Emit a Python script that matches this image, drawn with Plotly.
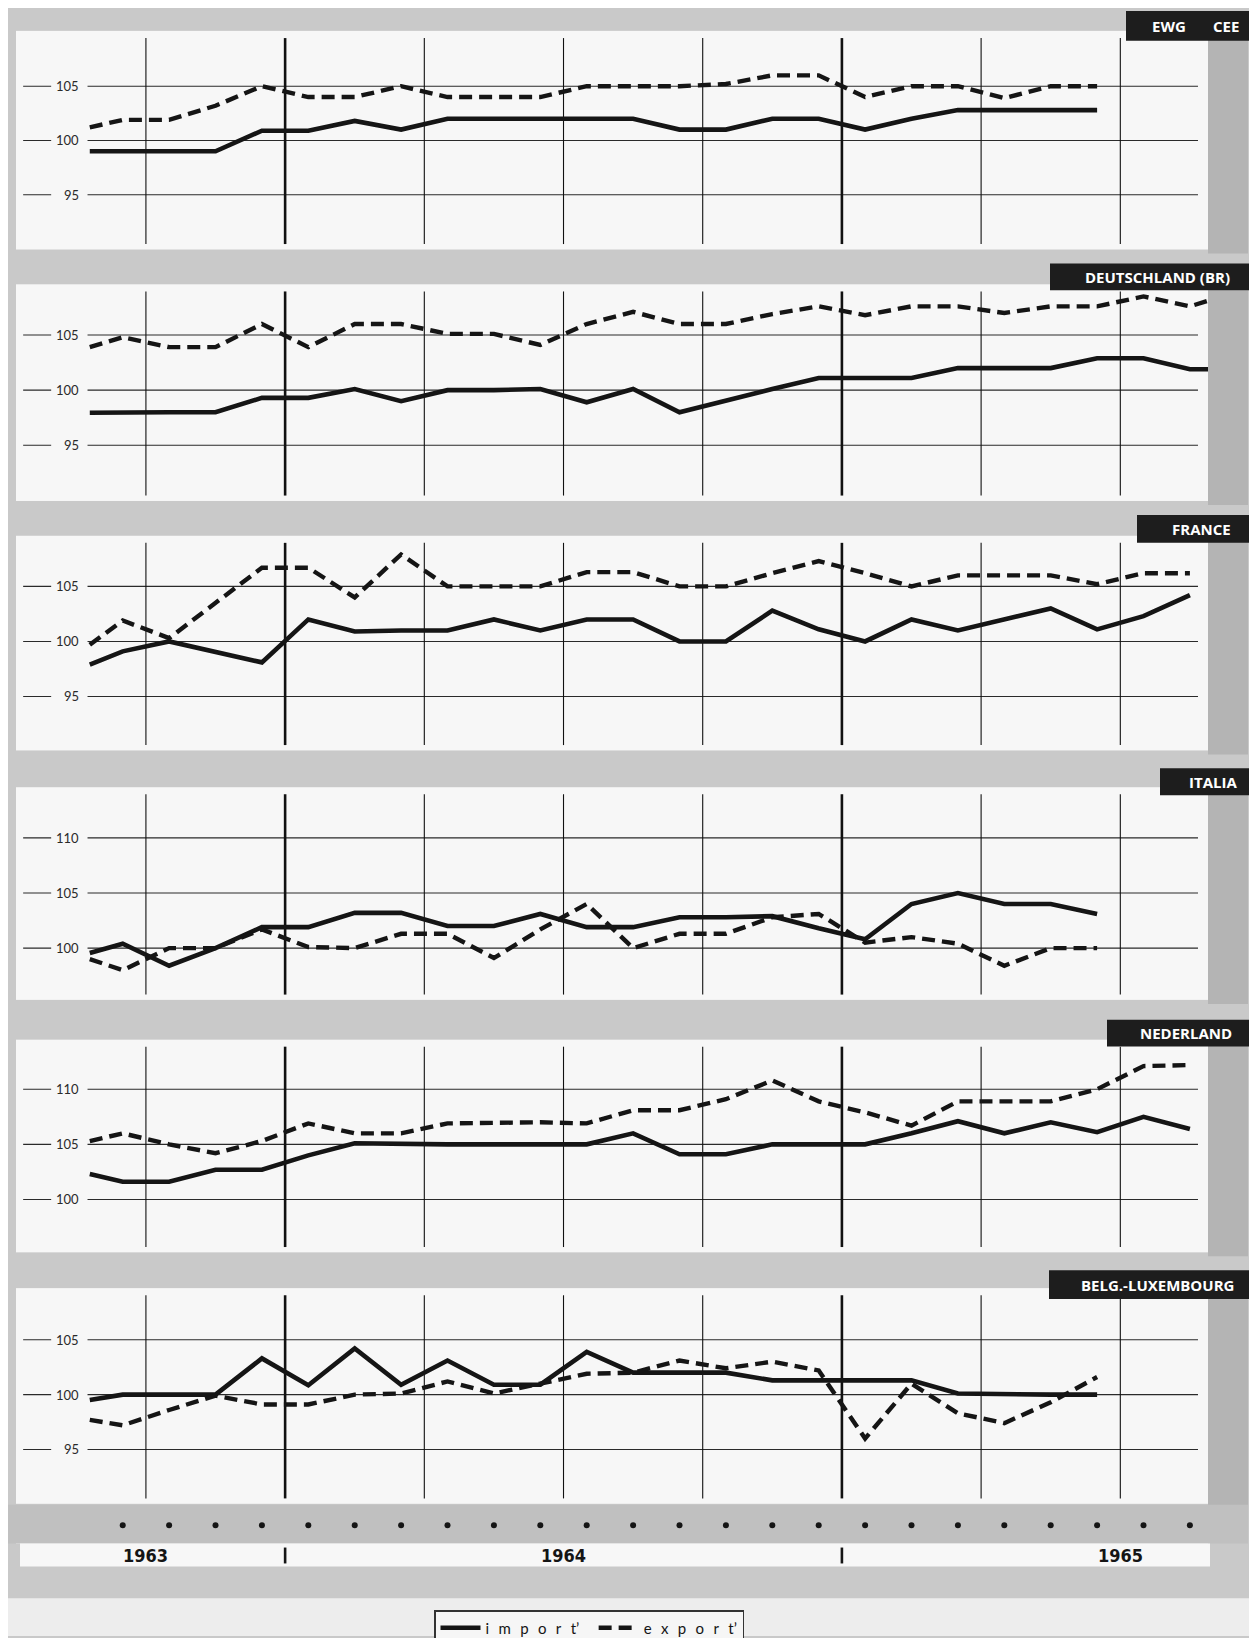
import plotly.graph_objects as go

W, H = 1257, 1638

# ---------------- data ----------------
MONTHS = ["1963-09", "1963-10", "1963-11", "1963-12",
          "1964-01", "1964-02", "1964-03", "1964-04", "1964-05", "1964-06",
          "1964-07", "1964-08", "1964-09", "1964-10", "1964-11", "1964-12",
          "1965-01", "1965-02", "1965-03", "1965-04", "1965-05", "1965-06",
          "1965-07", "1965-08"]
# axis unit = months since Jan 1963; each month plotted at its middle
X_MONTH = [8.5 + i for i in range(len(MONTHS))]
X_START = 7.79   # curves begin at the left end of the grid (late Aug 1963)
X_EDGE = 31.89   # right edge of the frame
X_QUARTERS = [9, 12, 15, 18, 21, 24, 27, 30]
X_YEARS = [12, 24]
YEAR_LABELS = ["1963", "1964", "1965"]
YEAR_POS = [9, 18, 30]
SP = "\u2002\u2009"
LEGEND_LABELS = [SP.join("import") + "\u2019" + SP,
                 SP.join("export") + "\u2019"]

# values: first entry = start of curve, then Sep 1963, Oct 1963, ...
EWG_IMPORT = [99.0, 99.0, 99.0, 99.0, 100.9, 100.9, 101.8, 101.0, 102.0, 102.0, 102.0, 102.0,
              102.0, 101.0, 101.0, 102.0, 102.0, 101.0, 102.0, 102.8, 102.8, 102.8, 102.8]
EWG_EXPORT = [101.2, 101.9, 101.9, 103.2, 105.0, 104.0, 104.0, 105.0, 104.0, 104.0, 104.0, 105.0,
              105.0, 105.0, 105.2, 106.0, 106.0, 104.0, 105.0, 105.0, 103.9, 105.0, 105.0]

DE_IMPORT = [97.95, 98.0, 98.0, 98.0, 99.3, 99.3, 100.1, 99.0, 100.0, 100.0, 100.1, 98.9,
             100.1, 98.0, 99.1, 100.1, 101.1, 101.1, 101.1, 102.0, 102.0, 102.0, 102.9, 102.9,
             101.9, 101.9]
DE_EXPORT = [103.9, 104.8, 103.9, 103.9, 106.0, 103.9, 106.0, 106.0, 105.1, 105.1, 104.1, 106.0,
             107.1, 106.0, 106.0, 106.9, 107.6, 106.8, 107.6, 107.6, 107.0, 107.6, 107.6, 108.5,
             107.6, 108.1]

FR_IMPORT = [97.9, 99.1, 100.0, 99.1, 98.1, 102.0, 100.9, 101.0, 101.0, 102.0, 101.0, 102.0,
             102.0, 100.0, 100.0, 102.8, 101.1, 100.0, 102.0, 101.0, 102.0, 103.0, 101.1, 102.3,
             104.2]
FR_EXPORT = [99.7, 101.9, 100.3, 103.5, 106.7, 106.7, 104.0, 107.9, 105.0, 105.0, 105.0, 106.3,
             106.3, 105.0, 105.0, 106.2, 107.3, 106.2, 105.0, 106.0, 106.0, 106.0, 105.2, 106.2,
             106.2]

IT_IMPORT = [99.55, 100.4, 98.4, 100.0, 101.9, 101.9, 103.2, 103.2, 102.0, 102.0, 103.1, 101.9,
             101.9, 102.8, 102.8, 102.9, 101.8, 100.8, 104.0, 105.0, 104.0, 104.0, 103.1]
IT_EXPORT = [99.0, 98.0, 100.0, 100.0, 101.7, 100.1, 100.0, 101.3, 101.3, 99.1, 101.7, 104.0,
             100.0, 101.3, 101.3, 102.8, 103.1, 100.5, 101.0, 100.4, 98.4, 100.0, 100.0]

NL_IMPORT = [102.3, 101.6, 101.6, 102.7, 102.7, 104.0, 105.1, 105.0, 105.0, 105.0, 105.0, 105.0,
             106.0, 104.1, 104.1, 105.0, 105.0, 105.0, 106.0, 107.1, 106.0, 107.0, 106.1, 107.5,
             106.4]
NL_EXPORT = [105.3, 106.0, 105.0, 104.2, 105.3, 106.9, 106.0, 106.0, 106.9, 107.0, 107.0, 106.9,
             108.1, 108.1, 109.1, 110.8, 108.9, 107.9, 106.7, 108.9, 108.9, 108.9, 110.0, 112.1,
             112.2]

BL_IMPORT = [99.5, 100.0, 100.0, 100.0, 103.3, 100.85, 104.2, 100.9, 103.1, 100.9, 100.9, 103.9,
             102.0, 102.0, 102.0, 101.3, 101.3, 101.3, 101.3, 100.1, 100.0, 100.0, 100.0]
BL_EXPORT = [97.7, 97.2, 98.6, 99.9, 99.1, 99.1, 100.0, 100.1, 101.2, 100.1, 101.0, 101.9,
             102.0, 103.1, 102.4, 103.0, 102.2, 96.0, 101.0, 98.3, 97.4, 99.3, 101.6]

PANEL_TAGS = ["EWG       CEE", "DEUTSCHLAND (BR)", "FRANCE", "ITALIA", "NEDERLAND",
              "BELG.-LUXEMBOURG"]
IMPORTS = [EWG_IMPORT, DE_IMPORT, FR_IMPORT, IT_IMPORT, NL_IMPORT, BL_IMPORT]
EXPORTS = [EWG_EXPORT, DE_EXPORT, FR_EXPORT, IT_EXPORT, NL_EXPORT, BL_EXPORT]
TO_EDGE = [False, True, False, False, False, False]
Y_TICKS = [[95, 100, 105], [95, 100, 105], [95, 100, 105],
           [100, 105, 110], [100, 105, 110], [95, 100, 105]]

# ---------------- layout (pixels) ----------------
PANEL_TOP = [23, 278, 531, 784, 1038, 1288]
PANEL_BOT = [243, 496, 747, 998, 1252, 1505]
Y_RANGE = [[89.95, 110.1], [89.95, 109.6], [90.1, 109.6],
           [95.3, 114.6], [95.2, 114.5], [90.05, 109.7]]
TAG_BOX = [(1118, 3, 33), (1042, 257, 284), (1129, 510, 538),
           (1152, 765, 792), (1099, 1018, 1045), (1041, 1270, 1299)]
PX_L, PX_R = 8, 1200
X_RANGE = [6.20, 31.89]

INK = "#151515"
PAGE = "#c9c9c9"
PANEL = "#f7f7f7"
FONT = "Lato"


def px(x):
    return x / W


def py(y):
    return 1 - y / H


def xs(values, edge):
    n = len(values) - (2 if edge else 1)
    out = [X_START] + X_MONTH[:n]
    if edge:
        out.append(X_EDGE)
    return out


fig = go.Figure()
shapes = []
annotations = []
layout = {}

for k in range(6):
    sfx = "" if k == 0 else str(k + 1)
    xa, ya = "x" + sfx, "y" + sfx
    imp, exp_ = IMPORTS[k], EXPORTS[k]
    fig.add_trace(go.Scatter(
        x=xs(imp, TO_EDGE[k]), y=imp, xaxis=xa, yaxis=ya, mode="lines",
        line=dict(color=INK, width=4.6),
        name=LEGEND_LABELS[0], legendgroup="imp", showlegend=(k == 0), legendrank=1))
    fig.add_trace(go.Scatter(
        x=xs(exp_, TO_EDGE[k]), y=exp_, xaxis=xa, yaxis=ya, mode="lines",
        line=dict(color=INK, width=4.4, dash="13px,7px"),
        name=LEGEND_LABELS[1], legendgroup="exp", showlegend=(k == 0), legendrank=2))

    layout["xaxis" + sfx] = dict(domain=[px(PX_L), px(PX_R)], range=X_RANGE,
                                 visible=False, anchor=ya, fixedrange=True)
    layout["yaxis" + sfx] = dict(domain=[py(PANEL_BOT[k]), py(PANEL_TOP[k])],
                                 range=Y_RANGE[k], visible=False, anchor=xa,
                                 fixedrange=True)

    # horizontal grid, short ticks and labels
    for t in Y_TICKS[k]:
        shapes.append(dict(type="line", xref=xa + " domain", yref=ya,
                           x0=0.060, x1=0.9916, y0=t, y1=t,
                           line=dict(color="#2a2a2a", width=1.1), layer="below"))
        shapes.append(dict(type="line", xref=xa + " domain", yref=ya,
                           x0=0.006, x1=0.0295, y0=t, y1=t,
                           line=dict(color="#2a2a2a", width=1.1), layer="below"))
        annotations.append(dict(xref=xa + " domain", yref=ya, x=0.0548, y=t,
                                text=str(t), showarrow=False, xanchor="right",
                                yanchor="middle",
                                font=dict(family=FONT, size=13, color="#2a2a2a")))
    # vertical grid
    for q in X_QUARTERS:
        thick = q in X_YEARS
        shapes.append(dict(type="line", xref=xa, yref=ya + " domain",
                           x0=q, x1=q, y0=0.025, y1=0.967,
                           line=dict(color="#111111", width=2.6 if thick else 1.1),
                           layer="below"))
    # right shadow strip
    shapes.append(dict(type="rect", xref="paper", yref="paper",
                       x0=px(1200), x1=px(1240), y0=py(PANEL_BOT[k] + 4),
                       y1=py(PANEL_TOP[k] + 6), fillcolor="#b4b4b4",
                       line=dict(width=0), layer="below"))
    # country tag
    tx0, ty0, ty1 = TAG_BOX[k]
    shapes.append(dict(type="rect", xref="paper", yref="paper",
                       x0=px(tx0), x1=1, y0=py(ty1), y1=py(ty0),
                       fillcolor="#1d1d1d", line=dict(width=0), layer="above"))
    annotations.append(dict(xref="paper", yref="paper", x=px((tx0 + W) / 2),
                            y=py((ty0 + ty1) / 2), text="<b>" + PANEL_TAGS[k] + "</b>",
                            showarrow=False, xanchor="center", yanchor="middle",
                            font=dict(family="Open Sans", size=15, color="#ffffff")))

# ---------------- month dots and year strip ----------------
layout["xaxis7"] = dict(domain=[px(PX_L), px(PX_R)], range=X_RANGE, visible=False,
                        anchor="y7", fixedrange=True)
layout["yaxis7"] = dict(domain=[py(1545), py(1508)], range=[0, 1], visible=False,
                        anchor="x7", fixedrange=True)
fig.add_trace(go.Scatter(x=X_MONTH, y=[0.5] * len(X_MONTH), xaxis="x7", yaxis="y7",
                         mode="markers", marker=dict(color=INK, size=6),
                         text=MONTHS, hoverinfo="text", showlegend=False))

shapes.append(dict(type="rect", xref="paper", yref="paper", x0=0, x1=px(1240),
                   y0=py(1545), y1=py(1506), fillcolor="#c0c0c0",
                   line=dict(width=0), layer="below"))
shapes.append(dict(type="rect", xref="paper", yref="paper", x0=px(12), x1=px(1202),
                   y0=py(1568), y1=py(1545), fillcolor=PANEL,
                   line=dict(width=0), layer="below"))
shapes.append(dict(type="rect", xref="paper", yref="paper", x0=0, x1=1,
                   y0=0, y1=py(1600), fillcolor="#ededed",
                   line=dict(width=0), layer="below"))
for yr_x in X_YEARS:
    shapes.append(dict(type="line", xref="x7", yref="paper", x0=yr_x, x1=yr_x,
                       y0=py(1565), y1=py(1549),
                       line=dict(color=INK, width=2.6)))
for lab, pos in zip(YEAR_LABELS, YEAR_POS):
    annotations.append(dict(xref="x7", yref="paper", x=pos, y=py(1557), text="<b>" + lab + "</b>",
                            showarrow=False, xanchor="center", yanchor="middle",
                            font=dict(family="DejaVu Sans Condensed", size=18, color=INK)))

fig.update_layout(
    width=W, height=H, margin=dict(l=0, r=0, t=0, b=0),
    paper_bgcolor=PAGE, plot_bgcolor=PANEL,
    shapes=shapes, annotations=annotations,
    showlegend=True,
    legend=dict(orientation="h", x=px(426), xanchor="left", y=py(1612), yanchor="top",
                bgcolor="#f6f6f6", bordercolor="#333333", borderwidth=1.5,
                font=dict(family=FONT, size=15, color=INK), traceorder="normal",
                itemwidth=40, tracegroupgap=0),
    **layout,
)

fig.write_html("out.html")
